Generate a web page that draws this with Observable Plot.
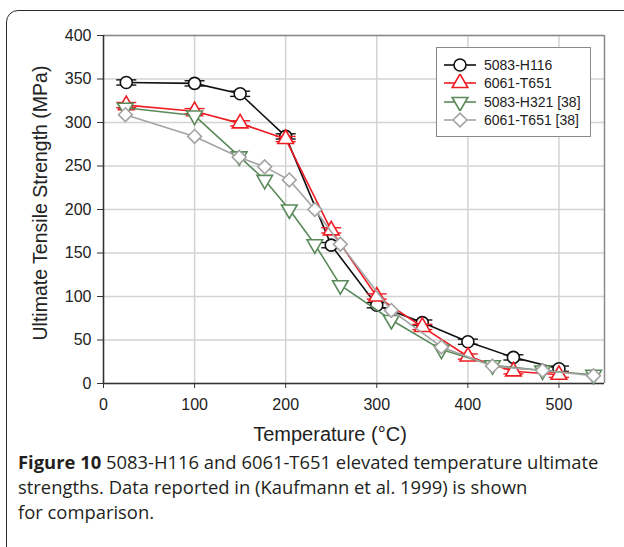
<!DOCTYPE html>
<html>
<head>
<meta charset="utf-8">
<script src="https://cdn.jsdelivr.net/npm/d3@7"></script>
<script src="https://cdn.jsdelivr.net/npm/@observablehq/plot@0.6"></script>
<style>
  html, body { margin: 0; padding: 0; background: #fff; }
  body { width: 624px; height: 547px; position: relative; overflow: hidden; }
  #chart { position: absolute; left: 0; top: 0; }
  #frame { position: absolute; left: 6px; top: 10px; width: 640px; height: 620px;
           border: 1.6px solid #2b2b2b; border-radius: 12px; pointer-events: none; }
  #ytitle { position: absolute; left: 40px; top: 203px; white-space: nowrap;
            transform: translate(-50%, -50%) rotate(-90deg);
            font-family: "Liberation Sans", Arial, sans-serif; font-size: 19.5px; color: #222; }
  #legend { position: absolute; left: 436px; top: 47px; width: 155px; height: 90px;
            border: 1.5px solid #8a8a8a; background: #fff; box-sizing: border-box;
            font-family: "Liberation Sans", Arial, sans-serif; font-size: 14px; color: #222; }
  .row { position: absolute; left: 6px; height: 18px; display: flex; align-items: center; }
  .row svg { width: 34px; height: 18px; margin-right: 7px; }
  #caption { position: absolute; left: 18px; top: 449px; width: 606px; white-space: nowrap;
             font-family: "Open Sans", "Noto Sans", sans-serif; font-size: 18.4px;
             line-height: 25px; color: #231f20; }
  #caption b { font-weight: 700; }
</style>
</head>
<body>
<div id="chart"></div>
<div id="ytitle">Ultimate Tensile Strength (MPa)</div>
<div id="legend"></div>
<div id="caption"><b>Figure 10</b> 5083-H116 and 6061-T651 elevated temperature ultimate<br>strengths. Data reported in (Kaufmann et al. 1999) is shown<br>for comparison.</div>
<div id="frame"></div>
<script>
// Axis ticks
const xTicks = [0, 100, 200, 300, 400, 500];
const yTicks = [0, 50, 100, 150, 200, 250, 300, 350, 400];

// 5083-H116 (this work)
const tempH116 = [25, 100, 150, 200, 250, 300, 350, 400, 450, 500];
const utsH116  = [346, 345, 333, 284, 159, 90, 70, 48, 30, 17];
const errH116  = [3, 3, 3, 3, 3, 3, 3, 3, 3, 3];

// 6061-T651 (this work)
const tempT651 = [25, 100, 150, 200, 250, 300, 350, 400, 450, 500];
const utsT651  = [320, 313, 299, 281, 176, 100, 65, 31, 14, 10];
const errT651  = [3, 3, 3, 3, 3, 3, 3, 3, 3, 3];

// 5083-H321 [38]
const tempH321ref = [24, 100, 149, 177, 204, 232, 260, 316, 371, 427, 482, 538];
const utsH321ref  = [317, 308, 261, 234, 200, 160, 113, 73, 39, 21, 15, 10];

// 6061-T651 [38]
const tempT651ref = [24, 100, 149, 177, 204, 232, 260, 316, 371, 427, 482, 538];
const utsT651ref  = [309, 284, 260, 249, 234, 200, 160, 84, 42, 20, 15, 9];

const seriesNames = ["5083-H116", "6061-T651", "5083-H321 [38]", "6061-T651 [38]"];
const seriesColors = ["#111111", "#ee1d23", "#5a8a5a", "#a3a3a3"];

// Downward-pointing triangle (mirror of d3.symbolTriangle)
const sqrt3 = Math.sqrt(3);
const triangleDown = {
  draw(context, size) {
    const y = -Math.sqrt(size / (sqrt3 * 3));
    context.moveTo(0, -y * 2);
    context.lineTo(-sqrt3 * y, y);
    context.lineTo(sqrt3 * y, y);
    context.closePath();
  }
};
const symbols = ["circle", "triangle", triangleDown, "diamond2"];
const radii = [6, 5.8, 5.8, 6.2];

const zip = (ts, vs, es) => ts.map((t, i) => ({t, v: vs[i], e: es ? es[i] : 0}));
const series = [
  zip(tempH116, utsH116, errH116),
  zip(tempT651, utsT651, errT651),
  zip(tempH321ref, utsH321ref),
  zip(tempT651ref, utsT651ref)
];

const capHalf = 11; // half width of error bar caps, in °C

const marks = [
  Plot.gridX(xTicks, {stroke: "#d3d3d3", strokeOpacity: 1, strokeWidth: 1.5}),
  Plot.gridY(yTicks, {stroke: "#d3d3d3", strokeOpacity: 1, strokeWidth: 1.5}),
  Plot.ruleY([400], {stroke: "#8a8a8a", strokeWidth: 1.5}),
  Plot.ruleX([550], {stroke: "#8a8a8a", strokeWidth: 1.5}),
  Plot.axisX({ticks: xTicks, tickSize: 5, tickPadding: 10, label: null, stroke: "#333", fontSize: 16}),
  Plot.axisY({ticks: yTicks, tickSize: 6, tickPadding: 6, label: null, stroke: "#333", fontSize: 16}),
  Plot.ruleX([0], {stroke: "#333", strokeWidth: 1.5}),
  Plot.ruleY([0], {stroke: "#333", strokeWidth: 1.5}),
  Plot.text(["Temperature (°C)"], {frameAnchor: "bottom", dy: 57, dx: -24, fontSize: 20, fill: "#222"})
];

series.forEach((data, k) => {
  const color = seriesColors[k];
  marks.push(Plot.line(data, {x: "t", y: "v", stroke: color, strokeWidth: 1.6}));
  if (k < 2) {
    marks.push(Plot.link(data, {x1: "t", x2: "t", y1: d => d.v - d.e, y2: d => d.v + d.e, stroke: color, strokeWidth: 1.4}));
    marks.push(Plot.link(data, {x1: d => d.t - capHalf, x2: d => d.t + capHalf, y1: d => d.v - d.e, y2: d => d.v - d.e, stroke: color, strokeWidth: 1.4}));
    marks.push(Plot.link(data, {x1: d => d.t - capHalf, x2: d => d.t + capHalf, y1: d => d.v + d.e, y2: d => d.v + d.e, stroke: color, strokeWidth: 1.4}));
  }
  marks.push(Plot.dot(data, {x: "t", y: "v", symbol: () => symbols[k], r: radii[k], stroke: color, fill: "white", strokeWidth: 1.6}));
});

const chart = Plot.plot({
  width: 624,
  height: 450,
  marginLeft: 103,
  marginRight: 20,
  marginTop: 35,
  marginBottom: 67,
  x: {domain: [0, 550]},
  y: {domain: [0, 400]},
  symbol: {type: "identity"},
  style: {fontFamily: "'Liberation Sans', Arial, sans-serif", fontSize: "16px", color: "#222", background: "transparent", overflow: "visible"},
  marks
});
document.getElementById("chart").appendChild(chart);

// Legend entries: line segment with the series marker, then the name
const legend = d3.select("#legend");
seriesNames.forEach((name, k) => {
  const row = legend.append("div").attr("class", "row").style("top", (8 + k * 18.3) + "px");
  const svg = row.append("svg").attr("viewBox", "0 0 34 18");
  svg.append("line").attr("x1", 1).attr("x2", 33).attr("y1", 9).attr("y2", 9)
    .attr("stroke", seriesColors[k]).attr("stroke-width", 1.6);
  const sym = typeof symbols[k] === "string"
    ? {circle: d3.symbolCircle, triangle: d3.symbolTriangle, diamond2: d3.symbolDiamond2}[symbols[k]]
    : symbols[k];
  svg.append("path").attr("transform", "translate(17,9)")
    .attr("d", d3.symbol(sym, Math.PI * radii[k] * radii[k])())
    .attr("fill", "white").attr("stroke", seriesColors[k]).attr("stroke-width", 1.6);
  row.append("span").text(name);
});
</script>
</body>
</html>
